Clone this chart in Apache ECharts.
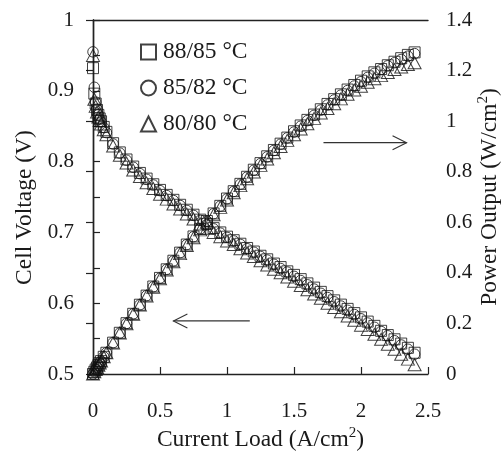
<!DOCTYPE html>
<html>
<head>
<meta charset="utf-8">
<script src="https://cdn.jsdelivr.net/npm/echarts@6/dist/echarts.min.js"></script>
<style>
  html, body { margin: 0; padding: 0; background: #fff; }
  #chart { width: 502px; height: 452px; }
</style>
</head>
<body>
<div id="chart"></div>
<script>
// Current density (A/cm2) shared by all three operating temperatures
const current = [0, 0.01, 0.02, 0.03, 0.04, 0.05, 0.06, 0.08, 0.1,
  0.15, 0.2, 0.25, 0.3, 0.35, 0.4, 0.45, 0.5, 0.55, 0.6, 0.65, 0.7, 0.75, 0.8, 0.85, 0.9, 0.95,
  1.0, 1.05, 1.1, 1.15, 1.2, 1.25, 1.3, 1.35, 1.4, 1.45, 1.5, 1.55, 1.6, 1.65, 1.7, 1.75,
  1.8, 1.85, 1.9, 1.95, 2.0, 2.05, 2.1, 2.15, 2.2, 2.25, 2.3, 2.35, 2.4];

// Cell voltage (V)
const volt8885 = [0.932, 0.896, 0.882, 0.873, 0.866, 0.861, 0.857, 0.849, 0.842,
  0.826, 0.813, 0.803, 0.793, 0.784, 0.776, 0.768, 0.760, 0.753, 0.746, 0.739, 0.732, 0.725, 0.718, 0.712, 0.706, 0.700,
  0.694, 0.689, 0.684, 0.678, 0.673, 0.667, 0.662, 0.656, 0.651, 0.645, 0.640, 0.634, 0.628, 0.622, 0.616, 0.610,
  0.604, 0.598, 0.592, 0.586, 0.580, 0.574, 0.568, 0.561, 0.555, 0.549, 0.543, 0.537, 0.530];
const volt8582 = [0.955, 0.905, 0.884, 0.874, 0.866, 0.860, 0.856, 0.848, 0.841,
  0.825, 0.812, 0.802, 0.792, 0.783, 0.775, 0.767, 0.759, 0.752, 0.745, 0.738, 0.731, 0.724, 0.717, 0.711, 0.705, 0.699,
  0.693, 0.688, 0.683, 0.677, 0.672, 0.666, 0.661, 0.655, 0.649, 0.644, 0.638, 0.632, 0.626, 0.620, 0.614, 0.608,
  0.602, 0.596, 0.590, 0.584, 0.578, 0.572, 0.566, 0.560, 0.554, 0.547, 0.541, 0.535, 0.528];
const volt8080 = [0.950, 0.888, 0.878, 0.870, 0.863, 0.858, 0.853, 0.845, 0.838,
  0.822, 0.809, 0.798, 0.788, 0.779, 0.770, 0.762, 0.754, 0.747, 0.740, 0.733, 0.726, 0.719, 0.712, 0.706, 0.700, 0.694,
  0.688, 0.683, 0.677, 0.671, 0.666, 0.660, 0.654, 0.648, 0.643, 0.637, 0.631, 0.625, 0.619, 0.613, 0.607, 0.600,
  0.594, 0.588, 0.582, 0.576, 0.569, 0.563, 0.556, 0.549, 0.542, 0.535, 0.528, 0.521, 0.513];

// Power density (W/cm2)
const power8885 = [0, 0.009, 0.018, 0.026, 0.035, 0.043, 0.051, 0.068, 0.084,
  0.124, 0.163, 0.201, 0.238, 0.274, 0.310, 0.346, 0.380, 0.414, 0.448, 0.480, 0.512, 0.544, 0.574, 0.605, 0.635, 0.665,
  0.694, 0.723, 0.752, 0.780, 0.808, 0.834, 0.861, 0.886, 0.911, 0.935, 0.960, 0.983, 1.005, 1.026, 1.047, 1.068,
  1.087, 1.106, 1.125, 1.143, 1.160, 1.177, 1.193, 1.206, 1.221, 1.235, 1.249, 1.262, 1.272];
const power8582 = [0, 0.009, 0.018, 0.026, 0.035, 0.043, 0.051, 0.068, 0.084,
  0.124, 0.162, 0.200, 0.238, 0.274, 0.310, 0.345, 0.379, 0.414, 0.447, 0.480, 0.512, 0.543, 0.574, 0.604, 0.634, 0.664,
  0.693, 0.722, 0.751, 0.779, 0.806, 0.832, 0.859, 0.884, 0.909, 0.934, 0.957, 0.980, 1.002, 1.023, 1.044, 1.064,
  1.084, 1.103, 1.121, 1.139, 1.156, 1.173, 1.189, 1.204, 1.219, 1.231, 1.244, 1.257, 1.267];
const power8080 = [0, 0.009, 0.018, 0.026, 0.035, 0.043, 0.051, 0.068, 0.084,
  0.123, 0.162, 0.199, 0.236, 0.273, 0.308, 0.343, 0.377, 0.411, 0.444, 0.476, 0.508, 0.539, 0.570, 0.600, 0.630, 0.659,
  0.688, 0.717, 0.745, 0.772, 0.799, 0.825, 0.850, 0.875, 0.900, 0.924, 0.946, 0.969, 0.990, 1.011, 1.032, 1.050,
  1.069, 1.088, 1.106, 1.123, 1.138, 1.154, 1.168, 1.180, 1.192, 1.204, 1.214, 1.224, 1.231];

const seriesNames = ['88/85 \u00B0C', '85/82 \u00B0C', '80/80 \u00B0C'];
const seriesSymbols = ['rect', 'circle', 'triangle'];
const voltageSets = [volt8885, volt8582, volt8080];
const powerSets = [power8885, power8582, power8080];

// Direction arrows: [x1, y1, x2 (tip), y2] in data units of the axis they refer to
const voltArrow = [1.17, 0.575, 0.6, 0.575];
const powerArrow = [1.72, 0.915, 2.34, 0.915];

const FONT = 'Liberation Serif';
const INK = '#1a1a1a';

const pairs = (ys) => current.map((c, i) => [c, ys[i]]);

const symbolSizes = { rect: 11, circle: 10.5, triangle: [13, 12] };

function makeSeries(name, symbol, data, yAxisIndex) {
  return {
    type: 'scatter',
    name: name,
    data: data,
    xAxisIndex: 0,
    yAxisIndex: yAxisIndex,
    symbol: symbol,
    symbolSize: symbolSizes[symbol],
    clip: false,
    silent: true,
    itemStyle: { color: 'rgba(255,255,255,0)', borderColor: '#111', borderWidth: 1 }
  };
}

const series = [];
for (let k = 0; k < 3; k++) series.push(makeSeries(seriesNames[k], seriesSymbols[k], pairs(voltageSets[k]), 0));
for (let k = 0; k < 3; k++) series.push(makeSeries(seriesNames[k], seriesSymbols[k], pairs(powerSets[k]), 1));

const axisLine = { show: true, lineStyle: { color: '#222', width: 1.4 } };
const tick = { show: true, inside: true, length: 7, lineStyle: { color: '#222', width: 1.2 } };
const labelStyle = { fontFamily: FONT, fontSize: 21, color: INK };
const TITLE_SIZE = 23.5;
const supRich = {
  n: { fontFamily: FONT, fontSize: TITLE_SIZE, color: INK, lineHeight: 28 },
  sup: { fontFamily: FONT, fontSize: 15, color: INK, lineHeight: 14, verticalAlign: 'top' }
};

const chart = echarts.init(document.getElementById('chart'), null, { renderer: 'canvas' });
chart.setOption({
  animation: false,
  backgroundColor: '#fff',
  grid: { left: 93, right: 74, top: 20, bottom: 78, outerBoundsMode: 'none', containLabel: false },
  legend: {
    data: seriesNames,
    orient: 'vertical',
    left: 140,
    top: 40,
    padding: 0,
    itemWidth: 15,
    itemHeight: 15,
    itemGap: 12,
    selectedMode: false,
    textStyle: { fontFamily: FONT, fontSize: 23.5, lineHeight: 24, color: INK, padding: [0, 0, 0, 2] }
  },
  xAxis: [
    {
      type: 'value', min: 0, max: 2.5, interval: 0.5, position: 'bottom',
      axisLine: axisLine, axisTick: tick, splitLine: { show: false },
      axisLabel: Object.assign({ margin: 27 }, labelStyle),
      name: '{n|Current Load (A/cm}{sup|2}{n|)}',
      nameLocation: 'middle', nameGap: 52, nameMoveOverlap: false,
      nameTextStyle: { rich: supRich }
    },
    {
      type: 'value', min: 0, max: 2.5, position: 'top',
      axisLine: axisLine, axisTick: { show: false }, axisLabel: { show: false }, splitLine: { show: false }
    }
  ],
  yAxis: [
    {
      type: 'value', min: 0.5, max: 1, interval: 0.05, position: 'left',
      axisLine: axisLine, axisTick: tick, splitLine: { show: false },
      axisLabel: Object.assign({
        margin: 19,
        formatter: (v) => (Math.round(v * 100) % 10 === 0 ? String(Math.round(v * 10) / 10) : '')
      }, labelStyle),
      name: 'Cell Voltage (V)', nameLocation: 'middle', nameGap: 56, nameMoveOverlap: false,
      nameTextStyle: { fontFamily: FONT, fontSize: TITLE_SIZE, color: INK, padding: [0, 21, 0, 0] }
    },
    {
      type: 'value', min: 0, max: 1.4, interval: 0.2, position: 'right',
      axisLine: axisLine, axisTick: tick, splitLine: { show: false },
      axisLabel: Object.assign({ margin: 18 }, labelStyle),
      name: '{n|Power Output (W/cm}{sup|2}{n|)}',
      nameLocation: 'middle', nameGap: 48, nameMoveOverlap: false,
      nameTextStyle: { rich: supRich }
    }
  ],
  series: series
});

// Open-headed arrows pointing at the axis each curve belongs to
function arrowGraphic(spec, yAxisIndex) {
  const a = chart.convertToPixel({ xAxisIndex: 0, yAxisIndex: yAxisIndex }, [spec[0], spec[1]]);
  const b = chart.convertToPixel({ xAxisIndex: 0, yAxisIndex: yAxisIndex }, [spec[2], spec[3]]);
  const dir = Math.sign(b[0] - a[0]);
  const style = { stroke: '#333', lineWidth: 1.1, fill: null };
  return [
    { type: 'line', shape: { x1: a[0], y1: a[1], x2: b[0], y2: b[1] }, style: style, silent: true },
    { type: 'polyline', shape: { points: [[b[0] - dir * 14, b[1] - 7], [b[0], b[1]], [b[0] - dir * 14, b[1] + 7]] }, style: style, silent: true }
  ];
}

chart.setOption({
  graphic: arrowGraphic(voltArrow, 0).concat(arrowGraphic(powerArrow, 1))
});
</script>
</body>
</html>
